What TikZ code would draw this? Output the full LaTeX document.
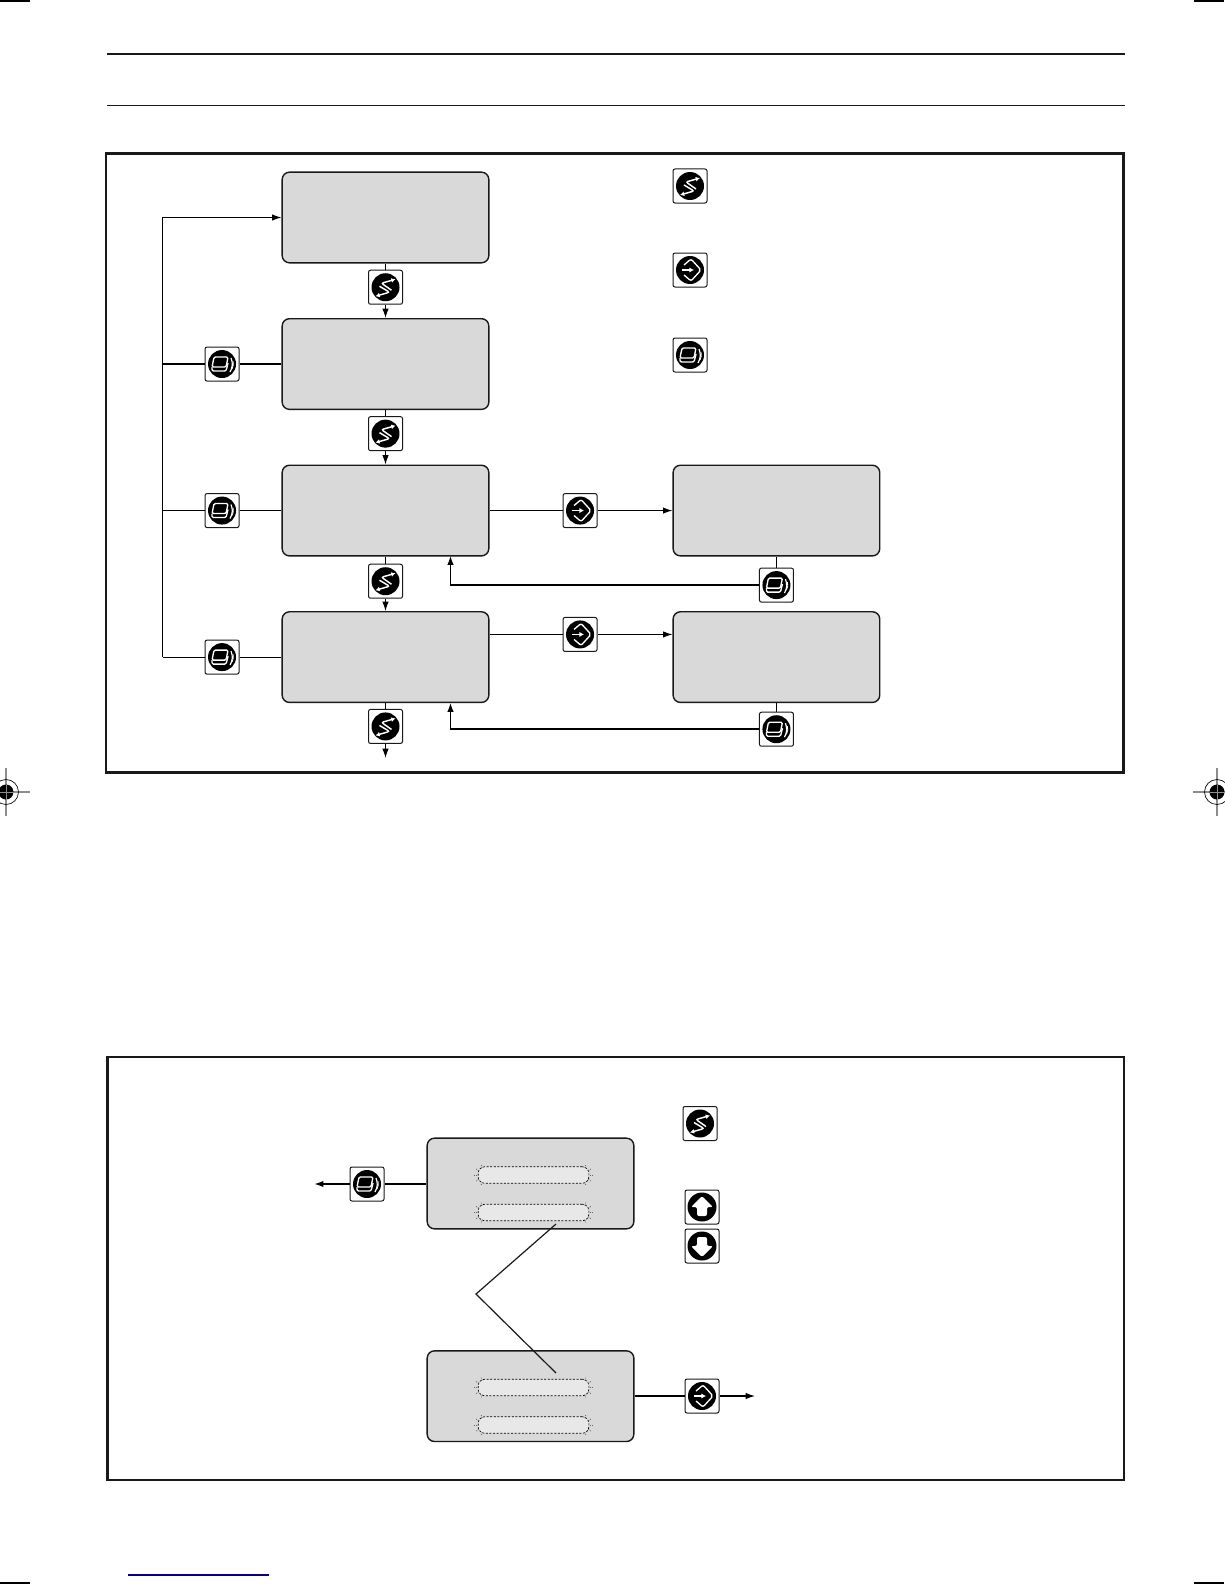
\documentclass[tikz,border=0pt]{standalone}
\usepackage{tikz}
\usetikzlibrary{arrows.meta,positioning,calc}

% icon faces, drawn in reference pixels round the middle of the icon
\newcommand{\glyphdisc}[1]{\fill[black] (0,0) circle (#1);}
\newcommand{\glyphS}{%
	\begin{scope}[shift={(path picture bounding box.center)}]
		\glyphdisc{14}
		\draw [white, line width=1.1pt, -{Latex[length=3.2pt,width=3.6pt]}] (6,3) -- (-4,-4) -- (10,-8);
		\draw [white, line width=1.1pt, -{Latex[length=3.2pt,width=3.6pt]}] (-6,-1) -- (4,5) -- (-10,9);
	\end{scope}}
\newcommand{\glyphE}{%
	\begin{scope}[shift={(path picture bounding box.center)}]
		\glyphdisc{14}
		\draw [white, line width=1pt] (-6,-5) -- (1,-11) -- (11,0) -- (1,11) -- (-6,5);
		\draw [white, line width=1pt, -{Latex[length=3.5pt,width=4pt]}] (-8,0) -- (4,0);
	\end{scope}}
\newcommand{\glyphB}{%
	\begin{scope}[shift={(path picture bounding box.center)}]
		\glyphdisc{14}
		\draw [white, line width=1pt, rounded corners=1pt] (-8,-7) -- (6,-7) -- (4,3) -- (-10,3) -- cycle;
		\draw [white, line width=1pt, rounded corners=1pt] (-10,3) -- (-10,7) -- (4,7) -- (6,-1);
		\draw [white, line width=0.9pt] (9,-6) to [bend left=25] (8,8);
		\draw [white, line width=0.6pt] (11,-3) to [bend left=20] (10,5);
	\end{scope}}
\newcommand{\glyphU}{%
	\begin{scope}[shift={(path picture bounding box.center)}]
		\glyphdisc{14.5}
		\fill [white] (0,-11) -- (11,0) -- (5,0) -- (5,9) -- (-5,9) -- (-5,0) -- (-11,0) -- cycle;
	\end{scope}}
\newcommand{\glyphD}{%
	\begin{scope}[shift={(path picture bounding box.center)}]
		\glyphdisc{14.5}
		\fill [white] (0,11) -- (11,0) -- (5,0) -- (5,-9) -- (-5,-9) -- (-5,0) -- (-11,0) -- cycle;
	\end{scope}}

\begin{document}
\begin{tikzpicture}[
			x=0.75pt, y=-0.75pt,
			>={Latex[length=7pt,width=4.8pt]},
			screen/.style={
				rectangle,
				rounded corners=5.5pt,
				draw=black!90,
				line width=1.05pt,
				fill=black!15,
				minimum width=155pt,
				minimum height=68pt,
				inner sep=0pt
			},
			icon/.style={
				rectangle,
				rounded corners=1.5pt,
				draw=black!90,
				line width=0.75pt,
				fill=white,
				minimum size=25.5pt,
				inner sep=0pt
			},
			iconS/.style={icon, path picture={\glyphS}},
			iconE/.style={icon, path picture={\glyphE}},
			iconB/.style={icon, path picture={\glyphB}},
			iconU/.style={icon, path picture={\glyphU}},
			iconD/.style={icon, path picture={\glyphD}},
			wire/.style={draw=black, line width=0.8pt},
			wirethick/.style={draw=black, line width=1.3pt},
			panel/.style={draw=black!90, line width=1.6pt},
			pill/.style={
				rectangle,
				rounded corners=5pt,
				draw=black,
				dash pattern=on 1.5pt off 1.2pt,
				line width=0.5pt,
				fill=black!9,
				minimum width=83pt,
				minimum height=12.4pt,
				inner sep=0pt
			},
			halo/.style={draw=black!60, dash pattern=on 0.8pt off 0.8pt, line width=0.55pt},
			crop/.style={draw=black!45, line width=0.9pt}
			]
			\useasboundingbox (0,0) rectangle (1224,1584);
			\fill [white] (0,0) rectangle (1224,1584);

			% page rules and print marks
			\draw [line width=1.8pt, black!90] (107,54) -- (1125,54);
			\draw [line width=0.6pt, black!90] (107,105) -- (1125,105);
			\draw [line width=1.1pt] (0,0.8) -- (30,0.8);
			\draw [line width=1.1pt] (1194,0.8) -- (1224,0.8);
			\draw [line width=1.1pt] (0,1583) -- (30,1583);
			\draw [line width=1.1pt] (1194,1583) -- (1224,1583);
			\draw [line width=1pt, blue!55!black] (128,1575) -- (269,1575);
			\foreach \cx in {6,1217} {
				\draw [crop] (\cx-24,792) -- (\cx+24,792);
				\draw [crop] (\cx,768) -- (\cx,816);
				\draw [line width=0.5pt, black] (\cx,792) circle (12.5);
				\fill [black] (\cx,792) circle (7.5);
				\draw [line width=0.3pt, black!45] (\cx-7.5,792) -- (\cx+7.5,792);
				\draw [line width=0.3pt, black!45] (\cx,784.5) -- (\cx,799.5);
			}

			% the two panels
			\draw [panel] (106,153.5) rectangle (1123.5,772.5);
			\draw [panel, line width=1.9pt] (107.5,1057) -- (107.5,1480);
			\draw [panel] (107.5,1057) rectangle (1124,1480);

			% We start by placing the screens of the upper panel
			\node [screen] (screen1) at (385.5,217.5) {};
			\node [screen, below of=screen1, node distance=109.9pt] (screen2) {};
			\node [screen, below of=screen2, node distance=109.9pt] (screen3) {};
			\node [screen, below of=screen3, node distance=109.9pt] (screen4) {};
			\node [screen, right of=screen3, node distance=293.2pt] (screen5) {};
			\node [screen, right of=screen4, node distance=293.2pt] (screen6) {};

			\node [iconS, below of=screen1, node distance=52.3pt] (scroll1) {};
			\node [iconS, below of=screen2, node distance=52.2pt] (scroll2) {};
			\node [iconS, below of=screen3, node distance=53pt] (scroll3) {};
			\node [iconS, below of=screen4, node distance=52pt] (scroll4) {};

			\node [iconB, left of=screen2, node distance=122.6pt] (back2) {};
			\node [iconB, left of=screen3, node distance=122.6pt] (back3) {};
			\node [iconB, left of=screen4, node distance=122.6pt] (back4) {};

			\node [iconE, right of=screen3, node distance=145.9pt] (enter3) {};
			\node [iconE, right of=screen4, node distance=145.9pt, yshift=17pt] (enter4) {};
			\node [iconB, below of=screen5, node distance=55.9pt] (back5) {};
			\node [iconB, below of=screen6, node distance=54.1pt] (back6) {};

			% legend of the upper panel
			\node [iconS] (legendS) at (690,186) {};
			\node [iconE] (legendE) at (690,270) {};
			\node [iconB] (legendB) at (690,355) {};

			\coordinate (railtop) at (162.5,217.5);
			\coordinate (railend) at (railtop |- back4);
			\coordinate (return3) at (450.5,555.5);
			\coordinate (return4) at (450.5,702.5);
			\coordinate (exit4) at (385.5,758);

			\draw [wire] (screen1) -- (scroll1);
			\draw [wire,->] (scroll1) -- (screen2);
			\draw [wire] (screen2) -- (scroll2);
			\draw [wire,->] (scroll2) -- (screen3);
			\draw [wire] (screen3) -- (scroll3);
			\draw [wire,->] (scroll3) -- (screen4);
			\draw [wire] (screen4) -- (scroll4);
			\draw [wire,->] (scroll4) -- (exit4);

			\draw [wire,->] (railend) |- (screen1);
			\draw [wirethick] (screen2) -- (back2);
			\draw [wirethick] (back2) -- (railtop |- back2);
			\draw [wire] (screen3) -- (back3);
			\draw [wire] (back3) -- (railtop |- back3);
			\draw [wire] (screen4) -- (back4);
			\draw [wire] (back4) -- (railend);

			\draw [wire] (screen3) -- (enter3);
			\draw [wire,->] (enter3) -- (screen5);
			\draw [wire] (screen4.east |- enter4) -- (enter4);
			\draw [wire,->] (enter4) -- (screen6.west |- enter4);

			\draw [wire] (screen5) -- (back5);
			\draw [wirethick,->] (back5) -| (return3);
			\draw [wire] (screen6) -- (back6);
			\draw [wirethick,->] (back6) -| (return4);

			% lower panel
			\node [screen] (screenA) at (530.5,1183.5) {};
			\node [screen, below of=screenA, node distance=159.5pt] (screenB) {};
			\node [pill] (pillA1) at (533.5,1175) {};
			\node [pill] (pillA2) at (533.5,1212.5) {};
			\node [pill] (pillB1) at (533.5,1387.5) {};
			\node [pill] (pillB2) at (533.5,1425) {};

			% the little rays at both ends of each pill
			\foreach \p in {pillA1,pillA2,pillB1,pillB2} {
				\foreach \a in {110,145,180,215,250} {
					\draw [halo] ($(\p.west)+(7,0)+(\a:7.5)$) -- ($(\p.west)+(7,0)+(\a:10.5)$);
					\draw [halo] ($(\p.east)+(-7,0)+(180-\a:7.5)$) -- ($(\p.east)+(-7,0)+(180-\a:10.5)$);
				}
			}

			\node [iconB] (backA) at (367,1184) {};
			\node [iconE] (enterB) at (702,1396) {};
			\node [iconS] (legendS2) at (700,1123.5) {};
			\node [iconU] (legendU) at (702,1207) {};
			\node [iconD] (legendD) at (702,1246) {};

			\coordinate (exitA) at (314,1184);
			\coordinate (exitB) at (755,1396);
			\coordinate (zigA) at (556,1224);
			\coordinate (zigM) at (476,1294);
			\coordinate (zigB) at (556,1373);

			\draw [wirethick] (screenA.west |- backA) -- (backA);
			\draw [wirethick,->] (backA) -- (exitA);
			\draw [wirethick] (screenB.east |- enterB) -- (enterB);
			\draw [wire,->] (enterB) -- (exitB);
			\draw [line width=0.9pt, black!90] (zigA) -- (zigM) -- (zigB);
			\end{tikzpicture}
\end{document}
